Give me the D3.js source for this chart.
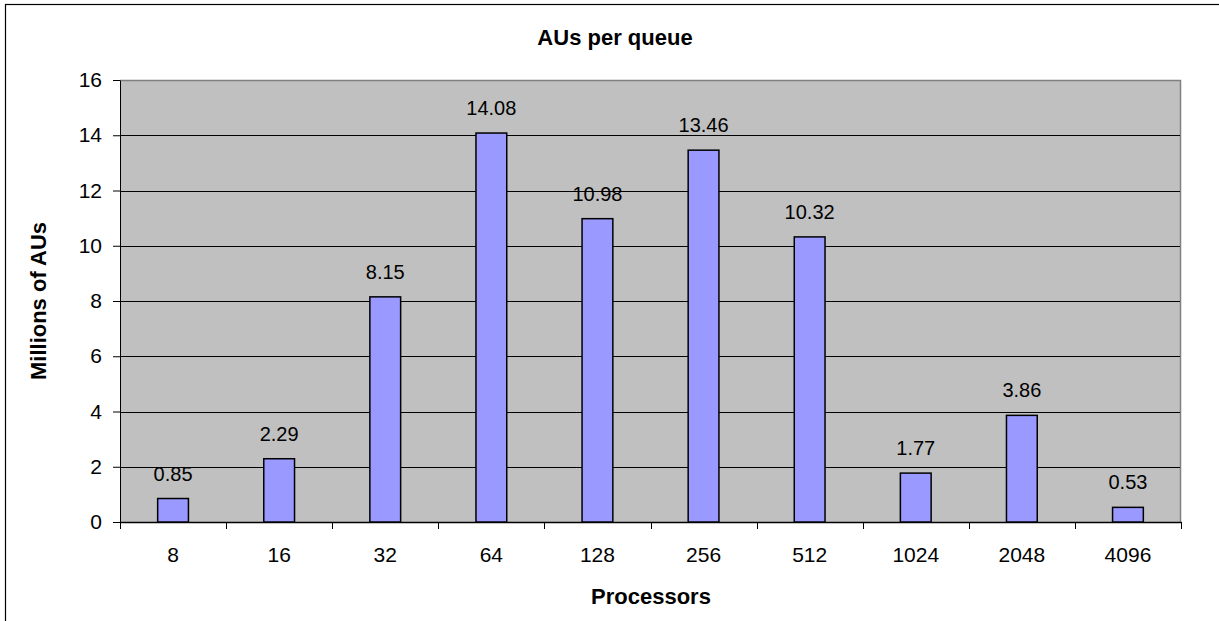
<!DOCTYPE html>
<html>
<head>
<meta charset="utf-8">
<script src="https://cdn.jsdelivr.net/npm/d3@7"></script>
<style>
  html, body { margin: 0; padding: 0; background: #fff; }
  svg { display: block; }
  text { font-family: "Liberation Sans", Arial, sans-serif; fill: #000; }
</style>
</head>
<body>
<svg id="chart" width="1219" height="621"></svg>
<script>
const categories = ["8", "16", "32", "64", "128", "256", "512", "1024", "2048", "4096"];
const values = [0.85, 2.29, 8.15, 14.08, 10.98, 13.46, 10.32, 1.77, 3.86, 0.53];
const valueLabels = ["0.85", "2.29", "8.15", "14.08", "10.98", "13.46", "10.32", "1.77", "3.86", "0.53"];
const yTicks = [0, 2, 4, 6, 8, 10, 12, 14, 16];
const title = "AUs per queue";
const xTitle = "Processors";
const yTitle = "Millions of AUs";

const svg = d3.select("#chart");
const W = 1219, H = 621;
const plot = { left: 120, right: 1181, top: 80, bottom: 522 };
const FONT = "Liberation Sans, Arial, sans-serif";

// outer chart border (right/bottom edges fall outside the view)
svg.append("rect")
  .attr("x", 5.5).attr("y", 4.5)
  .attr("width", W + 10).attr("height", H + 10)
  .attr("fill", "#fff").attr("stroke", "#000").attr("stroke-width", 1.2);

const x = d3.scaleBand().domain(categories).range([plot.left, plot.right]).paddingInner(0).paddingOuter(0);
const y = d3.scaleLinear().domain([0, 16]).range([plot.bottom, plot.top]);

// plot background
svg.append("rect")
  .attr("x", plot.left).attr("y", plot.top)
  .attr("width", plot.right - plot.left).attr("height", plot.bottom - plot.top)
  .attr("fill", "#C0C0C0");
// gray plot border (top & right)
svg.append("path")
  .attr("d", `M${plot.left},${plot.top + 0.5}H${plot.right - 0.5}V${plot.bottom}`)
  .attr("fill", "none").attr("stroke", "#808080").attr("stroke-width", 1.5);

// gridlines
svg.append("g").selectAll("line").data(yTicks.filter(d => d > 0 && d < 16)).join("line")
  .attr("x1", plot.left).attr("x2", plot.right - 1)
  .attr("y1", d => Math.round(y(d)) + 0.5).attr("y2", d => Math.round(y(d)) + 0.5)
  .attr("stroke", "#000").attr("stroke-width", 1);

// y axis
const yAxis = d3.axisLeft(y).tickValues(yTicks).tickSize(7).tickPadding(11).tickSizeOuter(0);
const gy = svg.append("g").attr("transform", `translate(${plot.left},0)`).call(yAxis);
gy.select(".domain").attr("stroke", "#000").attr("stroke-width", 1);
gy.selectAll(".tick line").attr("stroke", "#000");
gy.selectAll("text").style("font-size", "21px").style("font-family", FONT).attr("fill", "#000");

// x axis
const xAxis = d3.axisBottom(x).tickSize(0).tickPadding(25).tickSizeOuter(0);
const gx = svg.append("g").attr("transform", `translate(0,${plot.bottom})`).call(xAxis);
gx.select(".domain").attr("stroke", "#000").attr("stroke-width", 1.5);
gx.selectAll("text").style("font-size", "21px").style("font-family", FONT).attr("fill", "#000");
// category separator ticks
const boundaries = categories.map(c => x(c)).concat([plot.right]);
svg.append("g").selectAll("line").data(boundaries).join("line")
  .attr("x1", d => Math.round(d) + 0.5).attr("x2", d => Math.round(d) + 0.5)
  .attr("y1", plot.bottom).attr("y2", plot.bottom + 7)
  .attr("stroke", "#000").attr("stroke-width", 1);

// bars
const barW = x.bandwidth() * 0.29;
svg.append("g").selectAll("rect").data(values).join("rect")
  .attr("x", (d, i) => x(categories[i]) + (x.bandwidth() - barW) / 2)
  .attr("y", d => y(d))
  .attr("width", barW)
  .attr("height", d => y(0) - y(d))
  .attr("fill", "#9999FF")
  .attr("stroke", "#000").attr("stroke-width", 1.5);

// value labels
svg.append("g").selectAll("text").data(values).join("text")
  .attr("x", (d, i) => x(categories[i]) + x.bandwidth() / 2)
  .attr("y", d => y(d) - 18)
  .attr("text-anchor", "middle")
  .style("font-size", "20px")
  .text((d, i) => valueLabels[i]);

// titles
svg.append("text").attr("x", 615).attr("y", 45).attr("text-anchor", "middle")
  .style("font-size", "22px").style("font-weight", "bold").text(title);
svg.append("text").attr("x", 651).attr("y", 604).attr("text-anchor", "middle")
  .style("font-size", "22px").style("font-weight", "bold").text(xTitle);
svg.append("text").attr("transform", "translate(46,301) rotate(-90)").attr("text-anchor", "middle")
  .style("font-size", "22px").style("font-weight", "bold").text(yTitle);
</script>
</body>
</html>
